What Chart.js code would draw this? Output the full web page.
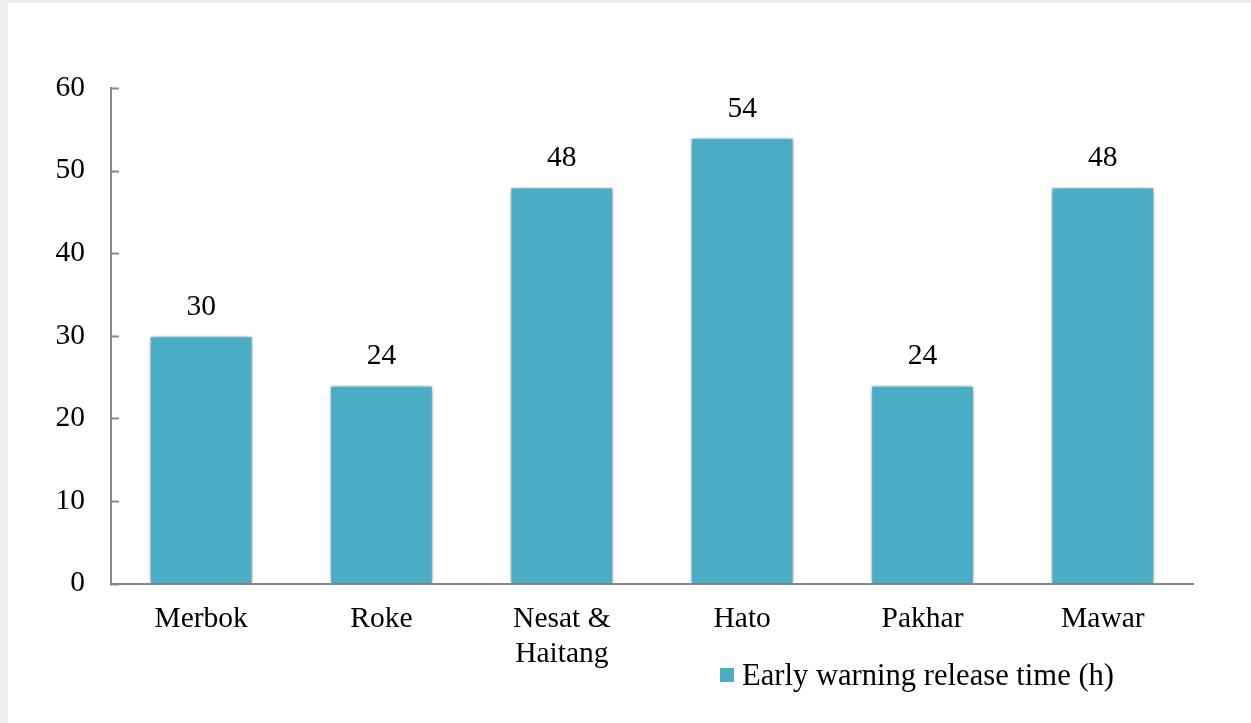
<!DOCTYPE html>
<html>
<head>
<meta charset="utf-8">
<script src="https://cdn.jsdelivr.net/npm/chart.js@4.4.1/dist/chart.umd.min.js"></script>
<style>
  html, body { margin: 0; padding: 0; background: #efefef; }
  #wrap { position: absolute; left: 0; top: 0; width: 1251px; height: 723px; }
</style>
</head>
<body>
<div id="wrap"><canvas id="c" width="1251" height="723"></canvas></div>
<script>
// Typhoon events and how many hours ahead the early warning was issued
const categories = ['Merbok', 'Roke', ['Nesat &', 'Haitang'], 'Hato', 'Pakhar', 'Mawar'];
const warningHours = [30, 24, 48, 54, 24, 48];
const seriesLabel = 'Early warning release time (h)';
const yTicks = [0, 10, 20, 30, 40, 50, 60];

const BAR_COLOR = '#4bacc6';
const AXIS_COLOR = '#888888';
const FONT_FAMILY = '"Liberation Serif", "Times New Roman", serif';
const FONT_SIZE = 29.5;
const KEY_FONT_SIZE = 30.6;

// Page frame: light grey margin with a white panel
const framePlugin = {
  id: 'frame',
  beforeDraw(chart) {
    const ctx = chart.ctx;
    ctx.save();
    ctx.fillStyle = '#efefef';
    ctx.fillRect(0, 0, chart.width, chart.height);
    ctx.fillStyle = '#ffffff';
    ctx.fillRect(8, 3, chart.width - 8, chart.height - 3);
    ctx.restore();
  }
};

// Soft shadow behind the bars
const barShadowPlugin = {
  id: 'barShadow',
  beforeDatasetDraw(chart) {
    const ctx = chart.ctx;
    ctx.save();
    ctx.shadowColor = 'rgba(0,0,0,0.4)';
    ctx.shadowBlur = 8;
    ctx.shadowOffsetX = 0;
    ctx.shadowOffsetY = 0;
  },
  afterDatasetDraw(chart) {
    chart.ctx.restore();
  }
};

// Inward tick marks on the value axis
const innerTicksPlugin = {
  id: 'innerTicks',
  afterDraw(chart) {
    const y = chart.scales.y;
    const ctx = chart.ctx;
    ctx.save();
    ctx.strokeStyle = AXIS_COLOR;
    ctx.lineWidth = 2;
    y.ticks.forEach((t, i) => {
      const py = Math.round(y.getPixelForTick(i)) + 0.5;
      ctx.beginPath();
      ctx.moveTo(y.right - 1, py);
      ctx.lineTo(y.right + 8, py);
      ctx.stroke();
    });
    ctx.restore();
  }
};

// Value labels above each bar
const valueLabelPlugin = {
  id: 'valueLabels',
  afterDatasetsDraw(chart) {
    const ctx = chart.ctx;
    const meta = chart.getDatasetMeta(0);
    const data = chart.data.datasets[0].data;
    ctx.save();
    ctx.font = FONT_SIZE + 'px ' + FONT_FAMILY;
    ctx.fillStyle = '#000';
    ctx.textAlign = 'center';
    ctx.textBaseline = 'alphabetic';
    meta.data.forEach((bar, i) => {
      ctx.fillText(String(data[i]), bar.x, bar.y - 21);
    });
    ctx.restore();
  }
};

// Series key placed under the plot, right of centre
const keyPlugin = {
  id: 'seriesKey',
  afterDraw(chart) {
    const ctx = chart.ctx;
    const ds = chart.data.datasets[0];
    ctx.save();
    ctx.fillStyle = ds.backgroundColor;
    ctx.fillRect(720, 668, 14, 14);
    ctx.font = KEY_FONT_SIZE + 'px ' + FONT_FAMILY;
    ctx.fillStyle = '#000';
    ctx.textAlign = 'left';
    ctx.textBaseline = 'alphabetic';
    ctx.fillText(ds.label, 742, 685);
    ctx.restore();
  }
};

new Chart(document.getElementById('c'), {
  type: 'bar',
  data: {
    labels: categories,
    datasets: [{
      label: seriesLabel,
      data: warningHours,
      backgroundColor: BAR_COLOR,
      borderColor: '#ffffff',
      borderWidth: 1.5,
      categoryPercentage: 1,
      barPercentage: 0.575
    }]
  },
  options: {
    responsive: false,
    animation: false,
    devicePixelRatio: 1,
    layout: { padding: { left: 0, right: 58, top: 88, bottom: 0 } },
    plugins: {
      legend: { display: false },
      tooltip: { enabled: false }
    },
    scales: {
      x: {
        grid: { display: false, drawTicks: false },
        border: { display: true, color: AXIS_COLOR, width: 2 },
        ticks: {
          color: '#000',
          font: { family: FONT_FAMILY, size: FONT_SIZE },
          padding: 18,
          maxRotation: 0,
          autoSkip: false
        },
        afterFit(scale) { scale.height = 139.5; }
      },
      y: {
        min: 0,
        max: 60,
        afterBuildTicks(scale) { scale.ticks = yTicks.map(v => ({ value: v })); },
        grid: { display: false, drawTicks: false },
        border: { display: true, color: AXIS_COLOR, width: 2 },
        ticks: {
          color: '#000',
          font: { family: FONT_FAMILY, size: FONT_SIZE },
          padding: 26
        },
        afterFit(scale) { scale.width = 111; }
      }
    }
  },
  plugins: [framePlugin, barShadowPlugin, innerTicksPlugin, valueLabelPlugin, keyPlugin]
});
</script>
</body>
</html>
